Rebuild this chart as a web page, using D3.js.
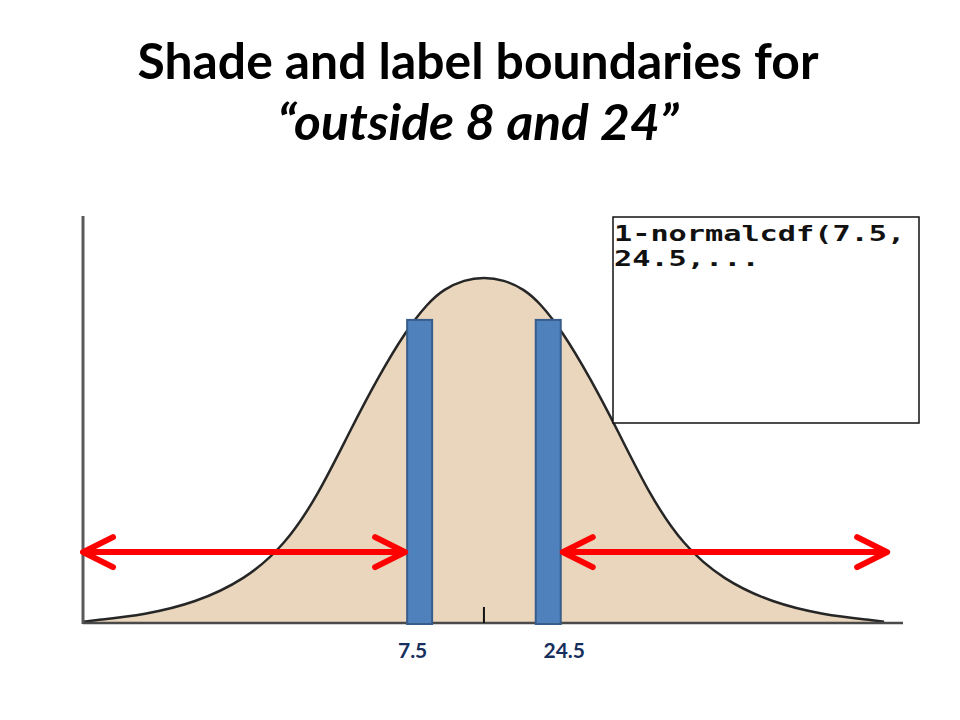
<!DOCTYPE html>
<html>
<head>
<meta charset="utf-8">
<script src="https://cdn.jsdelivr.net/npm/d3@7"></script>
<style>
  html, body { margin: 0; padding: 0; background: #fff; }
  svg { display: block; }
</style>
</head>
<body>
<svg id="chart" width="960" height="720"></svg>
<script>
// ---- data ----
const titleLines = ["Shade and label boundaries for", "\u201Coutside 8 and 24\u201D"];
// curve samples: x in data units, relative density (peak = 1)
const curveX = [-37.0, -36.9, -35.4, -28.8, -22.2, -15.6, -10.3, -5.9, -1.6, 2.0, 5.7, 8.6, 10.7, 13.4, 16.0,
                18.6, 21.3, 23.4, 26.3, 30.0, 33.6, 37.9, 42.3, 47.6, 54.2, 60.8, 67.4, 68.9];
const curveY = [0.004, 0.004, 0.008, 0.024, 0.058, 0.125, 0.225, 0.37, 0.56, 0.71, 0.845, 0.925, 0.965, 0.992, 1.0,
                0.992, 0.965, 0.925, 0.845, 0.71, 0.56, 0.37, 0.225, 0.125, 0.058, 0.024, 0.008, 0.004];
const boundaries = [7.5, 24.5];
const boundaryLabels = ["7.5", "24.5"];
const barTop = 0.876;
const meanValue = 16;
const arrowLevel = 0.205;
const arrowRightEnd = 69.3;
const calcLines = ["1-normalcdf(7.5,", "24.5,..."];

// ---- layout ----
const svg = d3.select("#chart");
const x = d3.scaleLinear().domain([-37, 71]).range([83, 900]);
const y = d3.scaleLinear().domain([0, 1]).range([623, 277]);

// title
svg.append("g").selectAll("text").data(titleLines).join("text")
  .attr("x", 478)
  .attr("y", (d, i) => i === 0 ? 79 : 140)
  .attr("text-anchor", "middle")
  .attr("font-family", "Lato, 'Open Sans', sans-serif")
  .attr("font-weight", 700)
  .attr("font-style", (d, i) => i === 0 ? "normal" : "italic")
  .attr("font-size", 50)
  .attr("textLength", (d, i) => i === 0 ? 681 : 401)
  .attr("lengthAdjust", "spacingAndGlyphs")
  .attr("fill", "#000")
  .text(d => d);

const pts = curveX.map((v, i) => [v, curveY[i]]);

// shaded area under curve
svg.append("path")
  .datum(pts)
  .attr("d", d3.area().x(d => x(d[0])).y0(y(0)).y1(d => y(d[1])).curve(d3.curveBasis))
  .attr("fill", "#e9d6bd");

// curve outline
svg.append("path")
  .datum(pts)
  .attr("d", d3.line().x(d => x(d[0])).y(d => y(d[1])).curve(d3.curveBasis))
  .attr("fill", "none")
  .attr("stroke", "#262626")
  .attr("stroke-width", 2.5);

// axes lines
svg.append("line")
  .attr("x1", x(-37)).attr("x2", x(-37))
  .attr("y1", 216).attr("y2", y(0) + 1)
  .attr("stroke", "#5a5a5a").attr("stroke-width", 3);
svg.append("line")
  .attr("x1", x(-37)).attr("x2", 903)
  .attr("y1", y(0)).attr("y2", y(0))
  .attr("stroke", "#4a4a4a").attr("stroke-width", 2.5);

// mean tick
svg.append("line")
  .attr("x1", x(meanValue)).attr("x2", x(meanValue))
  .attr("y1", 607).attr("y2", y(0))
  .attr("stroke", "#111").attr("stroke-width", 2);

// boundary bars
const barW = 25;
svg.append("g").selectAll("rect").data(boundaries).join("rect")
  .attr("x", d => x(d) - barW / 2)
  .attr("y", y(barTop))
  .attr("width", barW)
  .attr("height", y(0) + 1 - y(barTop))
  .attr("fill", "#4f81bd")
  .attr("stroke", "#385d8a")
  .attr("stroke-width", 2);

// boundary labels
svg.append("g").selectAll("text").data(boundaries).join("text")
  .attr("x", (d, i) => x(d) + (i === 0 ? -7 : 16))
  .attr("y", 658)
  .attr("text-anchor", "middle")
  .attr("font-family", "Lato, 'Open Sans', sans-serif")
  .attr("font-weight", 700)
  .attr("font-size", 21)
  .attr("fill", "#172f5c")
  .text((d, i) => boundaryLabels[i]);

// double-headed arrows
function doubleArrow(x1, x2, yy) {
  const g = svg.append("g")
    .attr("stroke", "#ff0000").attr("stroke-width", 6)
    .attr("stroke-linecap", "round").attr("stroke-linejoin", "round").attr("fill", "none");
  g.append("line").attr("x1", x1 + 2).attr("x2", x2 - 2).attr("y1", yy).attr("y2", yy);
  g.append("polyline").attr("points", `${x1 + 30},${yy - 15} ${x1},${yy} ${x1 + 30},${yy + 15}`);
  g.append("polyline").attr("points", `${x2 - 30},${yy - 15} ${x2},${yy} ${x2 - 30},${yy + 15}`);
}
doubleArrow(x(-37), x(boundaries[0]) - barW / 2 - 2, y(arrowLevel));
doubleArrow(x(boundaries[1]) + barW / 2 + 2, x(arrowRightEnd), y(arrowLevel));

// calculator screen
svg.append("rect")
  .attr("x", 613).attr("y", 217).attr("width", 306).attr("height", 206)
  .attr("fill", "#fff").attr("stroke", "#111").attr("stroke-width", 1.5);
svg.append("g").selectAll("text").data(calcLines).join("text")
  .attr("x", 614)
  .attr("y", (d, i) => 241 + i * 25)
  .attr("font-family", "'DejaVu Sans Mono', 'Liberation Mono', monospace")
  .attr("font-weight", 700)
  .attr("font-size", 21)
  .attr("textLength", d => d.length * 18.2)
  .attr("lengthAdjust", "spacingAndGlyphs")
  .attr("fill", "#111")
  .text(d => d);
</script>
</body>
</html>
